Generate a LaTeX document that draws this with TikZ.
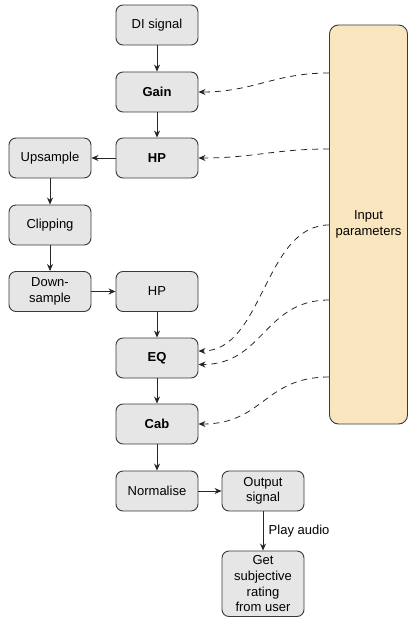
\documentclass[tikz,border=0pt]{standalone}
\usepackage{fontspec}
\setmainfont{Liberation Sans}
\usetikzlibrary{arrows.meta,positioning,calc}
\definecolor{boxfill}{RGB}{230,230,230}
\definecolor{boxline}{RGB}{54,57,61}
\definecolor{inpfill}{RGB}{250,230,190}
\begin{document}
\begin{tikzpicture}[x=1pt,y=-1pt,
  every node/.style={font=\fontsize{13}{15.6}\selectfont},
  blk/.style={draw=boxline,line width=0.9pt,fill=boxfill,rounded corners=7pt,
    minimum width=82pt,minimum height=40pt,inner sep=0pt,align=center},
  flow/.style={draw=black!85,line width=0.8pt,-{Stealth[length=7pt,width=6pt]}},
  param/.style={draw=black!85,line width=0.8pt,dash pattern=on 6pt off 5pt,
    -{Stealth[length=7pt,width=6pt]}}]
\useasboundingbox (0,0) rectangle (408,617);
% input parameters box
\node[draw=boxline,line width=0.9pt,fill=inpfill,rounded corners=9pt,
  minimum width=78pt,minimum height=399pt,inner sep=0pt,align=center]
  (inp) at (368.5,224.5) {Input\\parameters};
% main blocks
\node[blk] (di) at (157,25) {DI signal};
\node[blk] (gain) at (157,92) {\textbf{Gain}};
\node[blk] (hp) at (157,158) {\textbf{HP}};
\node[blk] (up) at (50,158) {Upsample};
\node[blk] (clip) at (50,225) {Clipping};
\node[blk] (down) at (50,291.5) {Down-\\sample};
\node[blk] (hp2) at (157,291.5) {HP};
\node[blk] (eq) at (157,358) {\textbf{EQ}};
\node[blk] (cab) at (157,424) {\textbf{Cab}};
\node[blk] (norm) at (157,491) {Normalise};
\node[blk] (out) at (263,491) {Output\\signal};
\node[blk,minimum height=65.5pt] (get) at (263,583.75) {Get\\subjective\\rating\\from user};
% solid flow
\draw[flow] (di) -- (gain);
\draw[flow] (gain) -- (hp);
\draw[flow] (hp) -- (up);
\draw[flow] (up) -- (clip);
\draw[flow] (clip) -- (down);
\draw[flow] (down) -- (hp2);
\draw[flow] (hp2) -- (eq);
\draw[flow] (eq) -- (cab);
\draw[flow] (cab) -- (norm);
\draw[flow] (norm) -- (out);
\draw[flow] (out) -- node[right=2pt] (play) {Play audio} (get);
% dashed parameter links
\coordinate (p1) at (inp.west |- 0,73);
\coordinate (p2) at (inp.west |- 0,149);
\coordinate (p3) at (inp.west |- 0,225);
\coordinate (p4) at (inp.west |- 0,300);
\coordinate (p5) at (inp.west |- 0,377);
\coordinate (e1) at (eq.east |- 0,351);
\coordinate (e2) at (eq.east |- 0,364.5);
\draw[param] (p1) .. controls +(-55,0) and +(55,0) .. (gain.east);
\draw[param] (p2) .. controls +(-55,0) and +(55,0) .. (hp.east);
\draw[param] (p3) .. controls +(-65,0) and +(65,0) .. (e1);
\draw[param] (p4) .. controls +(-65,0) and +(65,0) .. (e2);
\draw[param] (p5) .. controls +(-65,0) and +(65,0) .. (cab.east);
\end{tikzpicture}
\end{document}
